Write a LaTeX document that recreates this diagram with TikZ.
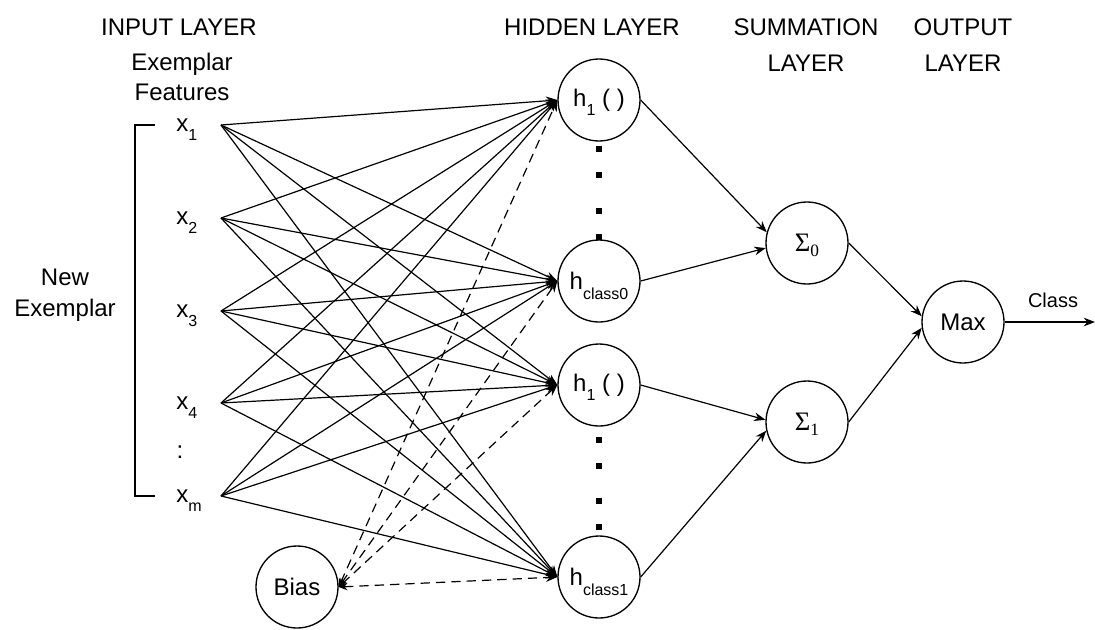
\documentclass[tikz,border=0pt]{standalone}
\usepackage{fontspec}
\setmainfont{Liberation Sans}
\newfontfamily\seriffont{Liberation Serif}
\usetikzlibrary{arrows.meta}
\newcommand{\sbx}[1]{\raisebox{-7pt}[0pt][0pt]{\fontsize{12}{12}\selectfont #1}}
\newcommand{\sbs}[1]{\raisebox{-3.5pt}[0pt][0pt]{\fontsize{13}{13}\selectfont #1}}
\begin{document}
\begin{tikzpicture}[x=0.75pt,y=-0.75pt,
  font=\fontsize{18}{21}\selectfont,
  neuron/.style={circle,draw,line width=1pt,minimum size=61.5pt,inner sep=0pt},
  conn/.style={line width=0.9pt,-{Stealth[length=8.5pt,width=6.5pt]}},
  dconn/.style={line width=0.9pt,dash pattern=on 7pt off 4.5pt,{Stealth[length=6.5pt,width=5.5pt]}-{Stealth[length=8.5pt,width=6.5pt]}},
  lbl/.style={inner sep=0pt,anchor=base west},
  head/.style={inner sep=0pt,align=center,font=\fontsize{18}{27}\selectfont},
  dotsq/.style={fill,rectangle,minimum size=3.8pt,inner sep=0pt}]
\useasboundingbox (0,0) rectangle (1095,629);

% headings
\node[head] (hin) at (179,27) {INPUT LAYER};
\node[head] (hhid) at (592,27) {HIDDEN LAYER};
\node[head] (hsum) at (806,45) {SUMMATION\\LAYER};
\node[head] (hout) at (963,45) {OUTPUT\\LAYER};
\node[inner sep=0pt,align=center,font=\fontsize{18}{22.5}\selectfont] (feat) at (182,77) {Exemplar\\Features};
\node[inner sep=0pt,align=center,font=\fontsize{18}{23}\selectfont] (newex) at (65,295) {New\\Exemplar};

% bracket
\draw[line width=1pt] (155,125) -- (135,125) -- (135,496) -- (155,496);

% input labels
\node[lbl] (x1) at (176,131) {x\sbx{1}};
\node[lbl] (x2) at (176,224) {x\sbx{2}};
\node[lbl] (x3) at (176,317) {x\sbx{3}};
\node[lbl] (x4) at (176,409) {x\sbx{4}};
\node[inner sep=0pt] (xd) at (180,452) {:};
\node[lbl] (xm) at (176,502) {x\sbx{m}};
\coordinate (p1) at (221,125);
\coordinate (p2) at (221,218);
\coordinate (p3) at (221,311);
\coordinate (p4) at (221,403);
\coordinate (p5) at (221,496);

% hidden nodes
\node[neuron] (H1) at (599,100) {h\sbx{1} ( )};
\node[neuron] (H2) at (599,281) {h\sbx{class0}};
\node[neuron] (H3) at (599,385) {h\sbx{1} ( )};
\node[neuron] (H4) at (599,577) {h\sbx{class1}};
\foreach \y [count=\i] in {149,175,211,237,440,466,501,527}
  \node[dotsq] (d\i) at (599,\y) {};

% bias
\node[neuron] (B) at (297,587) {Bias};

% summation and output
\node[neuron] (S0) at (807,243) {\seriffont\fontsize{20}{20}\selectfont Σ\sbs{0}};
\node[neuron] (S1) at (807,422) {\seriffont\fontsize{20}{20}\selectfont Σ\sbs{1}};
\node[neuron] (M) at (963,322) {Max};
\coordinate (out) at (1095,322);
\node[inner sep=0pt,font=\fontsize{15}{15}\selectfont] (cls) at (1053,300) {Class};

% input -> hidden
\foreach \p in {p1,p2,p3,p4,p5}
  \foreach \h in {H1,H2,H3,H4}
    \draw[conn] (\p) -- (\h.west);

% bias -> hidden (dashed)
\foreach \h in {H1,H2,H3,H4}
  \draw[dconn] (B.east) -- (\h.west);

% hidden -> summation
\draw[conn] (H1.east) -- (S0.165);
\draw[conn] (H2.east) -- (S0.187);
\draw[conn] (H3.east) -- (S1.177);
\draw[conn] (H4.east) -- (S1.192);

% summation -> max
\draw[conn] (S0.east) -- (M.172);
\draw[conn] (S1.east) -- (M.188);
\draw[conn] (M.east) -- (out);
\end{tikzpicture}
\end{document}
